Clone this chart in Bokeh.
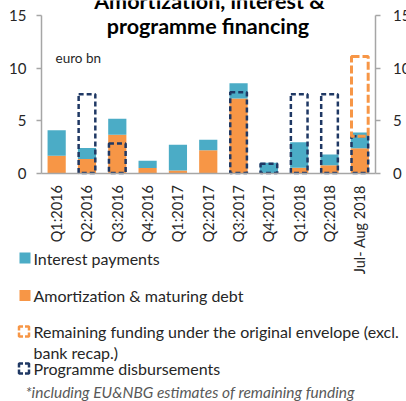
import math
from bokeh.plotting import figure
from bokeh.models import (Range1d, LinearAxis, FixedTicker, Label,
                          BoxAnnotation, ColumnDataSource)
from bokeh.embed import file_html
from bokeh.resources import INLINE

# ---- data (euro bn) ----
categories = ["Q1:2016", "Q2:2016", "Q3:2016", "Q4:2016", "Q1:2017", "Q2:2017",
              "Q3:2017", "Q4:2017", "Q1:2018", "Q2:2018", "Jul- Aug 2018"]
amortization = [1.65, 1.33, 3.65, 0.48, 0.25, 2.16, 7.10, 0.00, 0.50, 0.75, 2.35]
interest = [2.41, 1.05, 1.52, 0.69, 2.45, 1.01, 1.45, 0.97, 2.43, 1.02, 1.50]
disbursements = [0.0, 7.5, 2.8, 0.0, 0.0, 0.0, 7.7, 0.87, 7.5, 7.5, 3.5]
remaining = [0.0, 0.0, 0.0, 0.0, 0.0, 0.0, 0.0, 0.0, 0.0, 0.0, 7.6]
y_ticks = [0, 5, 10, 15]
y_max = 15

title_lines = ["Amortization, interest &", "programme financing"]
unit_text = "euro bn"
legend_labels = ["Interest payments", "Amortization & maturing debt",
                 "Remaining funding under the original envelope (excl.",
                 "bank recap.)", "Programme disbursements"]
footnote = "*including EU&NBG estimates of remaining funding"

# ---- styles / layout (pixels) ----
C_INT = "#4BACC6"
C_AMO = "#F79646"
C_NAVY = "#1F3864"
C_AXIS = "#A6A6A6"
C_TEXT = "#262626"
FONT = "Lato"
W, H = 406, 401
PLOT_L, PLOT_R, PLOT_T, PLOT_B = 41.0, 374.5, 15.0, 172.5

n = len(categories)
xpx = (PLOT_R - PLOT_L) / n
ypx = (PLOT_B - PLOT_T) / y_max
x_range = Range1d(-PLOT_L / xpx, n + (W - PLOT_R) / xpx)
y_range = Range1d(-(H - PLOT_B) / ypx, y_max + PLOT_T / ypx)

p = figure(x_range=x_range, y_range=y_range, width=W, height=H,
           output_backend="svg", toolbar_location=None,
           min_border=0, x_axis_location=None, y_axis_location=None)
p.outline_line_color = None
p.xgrid.visible = False
p.ygrid.visible = False
p.background_fill_color = "white"
p.border_fill_color = "white"

xpos = [i + 0.5 for i in range(n)]

# stacked bars
src = ColumnDataSource(dict(x=xpos, amo=amortization, inte=interest))
p.vbar_stack(["amo", "inte"], x="x", width=0.6, source=src,
             color=[C_AMO, C_INT], line_color=None)

# dashed boxes: programme disbursements
d_x = [x for x, v in zip(xpos, disbursements) if v > 0]
d_vals = [v for v in disbursements if v > 0]
p.vbar(x=d_x, top=d_vals, bottom=0, width=0.55, fill_color=None,
       line_color=C_NAVY, line_width=2.5, line_dash="5 3")

# dashed boxes: remaining funding stacked over disbursements
r_x = [x for x, v in zip(xpos, remaining) if v > 0]
r_bot = [d for d, v in zip(disbursements, remaining) if v > 0]
r_top = [d + v for d, v in zip(disbursements, remaining) if v > 0]
p.vbar(x=r_x, top=r_top, bottom=r_bot, width=0.55, fill_color=None,
       line_color=C_AMO, line_width=3, line_dash="8 3")

# axes (fixed inside the full-canvas frame)
left = LinearAxis(ticker=FixedTicker(ticks=y_ticks), fixed_location=0,
                  bounds=(0, y_max))
right = LinearAxis(ticker=FixedTicker(ticks=y_ticks), fixed_location=n,
                   bounds=(0, y_max))
for ax, st in ((left, 10), (right, 13)):
    ax.axis_line_color = C_AXIS
    ax.axis_line_width = 1.5
    ax.major_tick_line_color = C_AXIS
    ax.major_tick_line_width = 1.5
    ax.major_tick_out = 5
    ax.major_tick_in = 0
    ax.minor_tick_line_color = None
    ax.major_label_standoff = st
    ax.major_label_text_font = FONT
    ax.major_label_text_font_size = "15px"
    ax.major_label_text_color = C_TEXT
p.add_layout(left, "left")
p.add_layout(right, "right")

xa = LinearAxis(ticker=FixedTicker(ticks=xpos), fixed_location=0, bounds=(0, n),
                major_label_overrides={x: c for x, c in zip(xpos, categories)})
xa.axis_line_color = C_AXIS
xa.axis_line_width = 1.5
xa.major_tick_line_color = None
xa.minor_tick_line_color = None
xa.major_tick_out = 0
xa.major_tick_in = 0
xa.major_label_orientation = math.pi / 2
xa.major_label_standoff = 12
xa.major_label_text_font = FONT
xa.major_label_text_font_size = "14.5px"
xa.major_label_text_color = C_TEXT
p.add_layout(xa, "below")

def label(x, y, text, **kw):
    p.add_layout(Label(x=x, y=H - y, x_units="screen", y_units="screen",
                       text=text, text_font=FONT, **kw))

# title (two lines, the first one cut by the top edge as in the source)
label(209, 0, title_lines[0], text_font_style="bold", text_font_size="21.5px",
      text_color="black", text_align="center", text_baseline="middle")
label(207.5, 25, title_lines[1], text_font_style="bold", text_font_size="21.5px",
      text_color="black", text_align="center", text_baseline="middle")
label(55, 57, unit_text, text_font_size="13.5px", text_color=C_TEXT,
      text_baseline="middle")

# legend
def box(l, r, t, b, **kw):
    p.add_layout(BoxAnnotation(left=l, right=r, top=H - t, bottom=H - b,
                               left_units="screen", right_units="screen",
                               top_units="screen", bottom_units="screen", **kw))

box(19, 30, 252, 263, fill_color=C_INT, fill_alpha=1, line_color=None)
box(19, 30, 289.5, 300.5, fill_color=C_AMO, fill_alpha=1, line_color=None)
box(18.5, 28.5, 326, 336, fill_alpha=0, line_color=C_AMO, line_alpha=1,
    line_width=2.5, line_dash="8 2", line_dash_offset=4)
box(18.5, 28.5, 363, 373, fill_alpha=0, line_color=C_NAVY, line_alpha=1,
    line_width=2.5, line_dash="8 2", line_dash_offset=4)

leg_y = [257.5, 295, 331, 352, 367.5]
for txt, yy in zip(legend_labels, leg_y):
    label(33, yy, txt, text_font_size="16px", text_color=C_TEXT,
          text_baseline="middle")

label(25, 391, footnote, text_font_size="15.5px", text_font_style="italic",
      text_color="#595959", text_baseline="middle")

open("out.html", "w").write(file_html(p, INLINE))
